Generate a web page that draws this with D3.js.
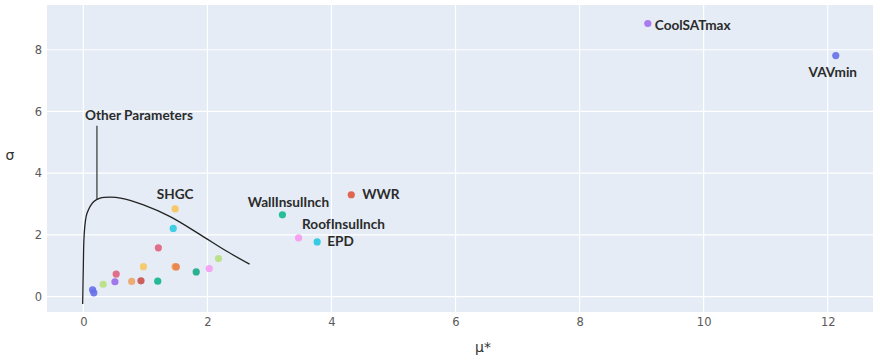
<!DOCTYPE html>
<html>
<head>
<meta charset="utf-8">
<script src="https://cdn.jsdelivr.net/npm/d3@7/dist/d3.min.js"></script>
<style>
  html, body { margin: 0; padding: 0; background: #fff; }
  svg { display: block; }
</style>
</head>
<body>
<svg id="chart" width="873" height="356"></svg>
<script>
// Morris screening results: mean absolute elementary effect (μ*) vs. standard deviation (σ)
const paramNames = [
  "CoolSATmax", "VAVmin", "WWR", "WallInsulInch", "RoofInsulInch", "EPD", "SHGC",
  "", "", "", "", "", "", "", "", "", "", "", "", "", "", "", ""
];
const muStar = [
  9.10, 12.13, 4.32, 3.21, 3.47, 3.77, 1.48,
  1.45, 1.21, 0.97, 1.48, 1.50, 2.18, 2.03, 1.82, 1.20, 0.93, 0.78, 0.53, 0.51, 0.32, 0.15, 0.17
];
const sigma = [
  8.85, 7.81, 3.30, 2.65, 1.90, 1.77, 2.84,
  2.21, 1.58, 0.97, 0.97, 0.96, 1.23, 0.91, 0.80, 0.50, 0.51, 0.49, 0.73, 0.48, 0.40, 0.22, 0.12
];
const markerColors = [
  "#a36ef0", "#6670e8", "#e0583f", "#10b890", "#f79af0", "#22c8e0", "#f8c45a",
  "#2fcbe0", "#e0607e", "#f5c860", "#f7a05a", "#e8844f", "#b6e07e", "#f59cf2", "#18aa86",
  "#10b58c", "#c8504a", "#eda468", "#e0607e", "#9a6ae8", "#b6e07e", "#6670e8", "#6670e8"
];

// Envelope separating the minor parameters (drawn as a hand-traced boundary)
const envelopeMu    = [-0.01, 0.00, 0.01, 0.03, 0.06, 0.17, 0.27, 0.44, 0.60, 0.97, 1.40, 1.89, 2.32, 2.68];
const envelopeSigma = [-0.24, 0.90, 1.84, 2.38, 2.70, 3.08, 3.19, 3.22, 3.19, 2.97, 2.59, 2.00, 1.46, 1.05];
const calloutMu = 0.22;
const calloutSigma = [3.13, 5.54];
const calloutText = "Other Parameters";

const xTicks = [0, 2, 4, 6, 8, 10, 12];
const yTicks = [0, 2, 4, 6, 8];

// Label placement (pixel offsets from each marker)
const labelLayout = {
  "CoolSATmax":    { dx: 7,   dy: 6,   anchor: "start" },
  "VAVmin":        { dx: -3,  dy: 21,  anchor: "middle" },
  "WWR":           { dx: 11,  dy: 4,   anchor: "start" },
  "WallInsulInch": { dx: 6,   dy: -8,  anchor: "middle" },
  "RoofInsulInch": { dx: 45,  dy: -9,  anchor: "middle" },
  "EPD":           { dx: 10,  dy: 4,   anchor: "start" },
  "SHGC":          { dx: 0,   dy: -10, anchor: "middle" }
};

const svg = d3.select("#chart");
const plot = { left: 47, right: 873, top: 5, bottom: 312 };

const x = d3.scaleLinear().domain([-0.585, 12.73]).range([plot.left, plot.right]);
const y = d3.scaleLinear().domain([-0.50, 9.45]).range([plot.bottom, plot.top]);

// plot background
svg.append("rect")
  .attr("x", plot.left).attr("y", plot.top)
  .attr("width", plot.right - plot.left).attr("height", plot.bottom - plot.top)
  .attr("fill", "#e5ecf6");

// gridlines
const grid = svg.append("g");
grid.selectAll("line.gx").data(xTicks).join("line")
  .attr("x1", d => x(d)).attr("x2", d => x(d))
  .attr("y1", plot.top).attr("y2", plot.bottom)
  .attr("stroke", "#fff").attr("stroke-width", 1.2);
grid.selectAll("line.gy").data(yTicks).join("line")
  .attr("y1", d => y(d)).attr("y2", d => y(d))
  .attr("x1", plot.left).attr("x2", plot.right)
  .attr("stroke", "#fff").attr("stroke-width", 1.2);

// axes (labels only)
const xAxis = d3.axisBottom(x).tickValues(xTicks).tickSize(0).tickPadding(6).tickFormat(d3.format("d"));
const yAxis = d3.axisLeft(y).tickValues(yTicks).tickSize(0).tickPadding(5).tickFormat(d3.format("d"));

const gx = svg.append("g").attr("transform", `translate(0,${plot.bottom})`).call(xAxis);
const gy = svg.append("g").attr("transform", `translate(${plot.left},0)`).call(yAxis);
[gx, gy].forEach(g => {
  g.select(".domain").remove();
  g.selectAll("text")
    .attr("fill", "#5a5a5a")
    .style("font-family", "'DejaVu Sans', Verdana, sans-serif")
    .style("font-size", "11.5px");
});

// axis titles
svg.append("text")
  .attr("x", 10).attr("y", 160)
  .attr("text-anchor", "middle")
  .attr("fill", "#333")
  .style("font-family", "'DejaVu Sans', sans-serif")
  .style("font-size", "14px")
  .text("σ");
svg.append("text")
  .attr("x", 483).attr("y", 352)
  .attr("text-anchor", "middle")
  .attr("fill", "#333")
  .style("font-family", "'DejaVu Sans', sans-serif")
  .style("font-size", "14px")
  .text("μ*");

// envelope curve
const envelope = envelopeMu.map((m, i) => [m, envelopeSigma[i]]);
svg.append("path")
  .datum(envelope)
  .attr("d", d3.line().x(d => x(d[0])).y(d => y(d[1])).curve(d3.curveCatmullRom.alpha(0.5)))
  .attr("fill", "none")
  .attr("stroke", "#222")
  .attr("stroke-width", 1.3);

// callout line and text
svg.append("line")
  .attr("x1", x(calloutMu)).attr("x2", x(calloutMu))
  .attr("y1", y(calloutSigma[0])).attr("y2", y(calloutSigma[1]))
  .attr("stroke", "#333").attr("stroke-width", 1.2);
svg.append("text")
  .attr("x", x(calloutMu) + 42).attr("y", y(calloutSigma[1]) - 6)
  .attr("text-anchor", "middle")
  .attr("fill", "#2b2b2b")
  .style("font-family", "Lato, 'Open Sans', sans-serif")
  .style("font-weight", 700)
  .style("font-size", "13.6px")
  .text(calloutText);

// markers
const points = paramNames.map((n, i) => ({ name: n, mu: muStar[i], sigma: sigma[i], color: markerColors[i] }));
svg.append("g").selectAll("circle").data(points).join("circle")
  .attr("cx", d => x(d.mu))
  .attr("cy", d => y(d.sigma))
  .attr("r", 3.6)
  .attr("fill", d => d.color)
  .attr("fill-opacity", 0.9);

// parameter labels
svg.append("g").selectAll("text").data(points.filter(d => d.name)).join("text")
  .attr("x", d => x(d.mu) + labelLayout[d.name].dx)
  .attr("y", d => y(d.sigma) + labelLayout[d.name].dy)
  .attr("text-anchor", d => labelLayout[d.name].anchor)
  .attr("fill", "#2b2b2b")
  .style("font-family", "Lato, 'Open Sans', sans-serif")
  .style("font-weight", 700)
  .style("font-size", "13.6px")
  .text(d => d.name);
</script>
</body>
</html>
